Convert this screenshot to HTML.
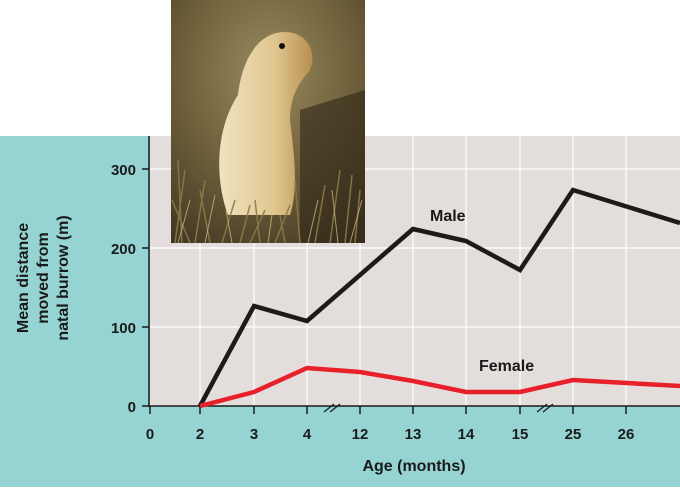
<!DOCTYPE html>
<html><head><style>
body{margin:0;width:680px;height:487px;overflow:hidden;background:#fff;}
svg text{font-family:"Liberation Sans",sans-serif;font-weight:bold;fill:#1a1a1a;}
</style></head><body>
<svg width="680" height="487" viewBox="0 0 680 487">
<defs>
<radialGradient id="bg" cx="0.5" cy="0.3" r="0.9">
<stop offset="0" stop-color="#9a8a60"/><stop offset="0.5" stop-color="#6e5f3a"/><stop offset="1" stop-color="#3a3020"/>
</radialGradient>
<linearGradient id="sq" x1="0" y1="0" x2="1" y2="0">
<stop offset="0" stop-color="#efe3c2"/><stop offset="0.6" stop-color="#e0c68e"/><stop offset="1" stop-color="#b88e50"/>
</linearGradient>
</defs>
<rect x="0" y="136" width="680" height="351" fill="#96d4d3"/>
<rect x="150" y="136" width="530" height="270" fill="#e3dedc"/>
<g stroke="#fff" stroke-width="1.2">
<line x1="150" y1="169" x2="680" y2="169"/><line x1="150" y1="248" x2="680" y2="248"/><line x1="150" y1="327" x2="680" y2="327"/>
<line x1="200" y1="136" x2="200" y2="406"/><line x1="254" y1="136" x2="254" y2="406"/><line x1="307" y1="136" x2="307" y2="406"/><line x1="360" y1="136" x2="360" y2="406"/><line x1="413" y1="136" x2="413" y2="406"/><line x1="466" y1="136" x2="466" y2="406"/><line x1="520" y1="136" x2="520" y2="406"/><line x1="573" y1="136" x2="573" y2="406"/><line x1="626" y1="136" x2="626" y2="406"/>
</g>
<rect x="171" y="0" width="194" height="243" fill="url(#bg)"/>
<path d="M300 110 L365 90 L365 243 L300 243 Z" fill="#2e2618" opacity="0.6"/>
<path d="M228 215 C215 180 215 130 238 95 C242 60 258 32 285 32 C305 32 318 50 310 70 C300 82 290 95 290 120 C295 160 298 190 290 215 Z" fill="url(#sq)"/>
<circle cx="282" cy="46" r="3" fill="#111"/>
<g stroke="#8a7a48" stroke-width="1.5" fill="none" opacity="0.9">
<path d="M175 243 L185 170 M182 243 L178 160 M195 243 L205 180 M210 243 L200 190 M222 243 L235 200 M240 243 L250 205 M260 243 L255 200 M275 243 L290 205 M300 243 L295 180 M315 243 L325 185 M330 243 L340 170 M345 243 L352 175 M355 243 L360 190 M190 243 L172 200 M250 243 L265 210 M285 243 L280 215"/>
</g>
<g stroke="#c9b47a" stroke-width="1" fill="none" opacity="0.8">
<path d="M178 243 L190 200 M205 243 L215 195 M232 243 L226 210 M268 243 L272 215 M308 243 L318 200 M338 243 L332 190 M350 243 L362 200"/>
</g>
<g stroke="#1a1a1a" stroke-width="1.5">
<line x1="149" y1="136" x2="149" y2="407"/>
<line x1="149" y1="406" x2="680" y2="406"/>
<line x1="142" y1="169" x2="149" y2="169"/><line x1="142" y1="248" x2="149" y2="248"/><line x1="142" y1="327" x2="149" y2="327"/><line x1="142" y1="406" x2="149" y2="406"/>
<line x1="150" y1="406" x2="150" y2="414"/><line x1="200" y1="406" x2="200" y2="414"/><line x1="254" y1="406" x2="254" y2="414"/><line x1="307" y1="406" x2="307" y2="414"/><line x1="360" y1="406" x2="360" y2="414"/><line x1="413" y1="406" x2="413" y2="414"/><line x1="466" y1="406" x2="466" y2="414"/><line x1="520" y1="406" x2="520" y2="414"/><line x1="573" y1="406" x2="573" y2="414"/><line x1="626" y1="406" x2="626" y2="414"/>
</g>
<g stroke="#1a1a1a" stroke-width="1.2">
<line x1="324" y1="412" x2="334" y2="404"/><line x1="330" y1="412" x2="340" y2="404"/>
<line x1="537" y1="412" x2="547" y2="404"/><line x1="543" y1="412" x2="553" y2="404"/>
</g>
<polyline points="200,406 254,306 307,321 413,229 466,241 520,270 573,190 680,223" fill="none" stroke="#1f1a1a" stroke-width="4.5" stroke-linejoin="miter"/>
<polyline points="200,406 254,392 307,368 360,372 413,381 466,392 520,392 573,380 680,386" fill="none" stroke="#e8202a" stroke-width="4.5"/>
<g font-size="15" text-anchor="end">
<text x="136" y="175">300</text><text x="136" y="254">200</text><text x="136" y="333">100</text><text x="136" y="412">0</text>
</g>
<g font-size="15" text-anchor="middle">
<text x="150" y="439">0</text><text x="200" y="439">2</text><text x="254" y="439">3</text><text x="307" y="439">4</text><text x="360" y="439">12</text><text x="413" y="439">13</text><text x="466" y="439">14</text><text x="520" y="439">15</text><text x="573" y="439">25</text><text x="626" y="439">26</text>
</g>
<text x="414" y="471" font-size="16" text-anchor="middle">Age (months)</text>
<text x="430" y="221" font-size="16">Male</text>
<text x="479" y="371" font-size="16">Female</text>
<g font-size="16" text-anchor="middle">
<text transform="translate(28,278) rotate(-90)">Mean distance</text>
<text transform="translate(48,278) rotate(-90)">moved from</text>
<text transform="translate(68,278) rotate(-90)">natal burrow (m)</text>
</g>
</svg>
</body></html>
